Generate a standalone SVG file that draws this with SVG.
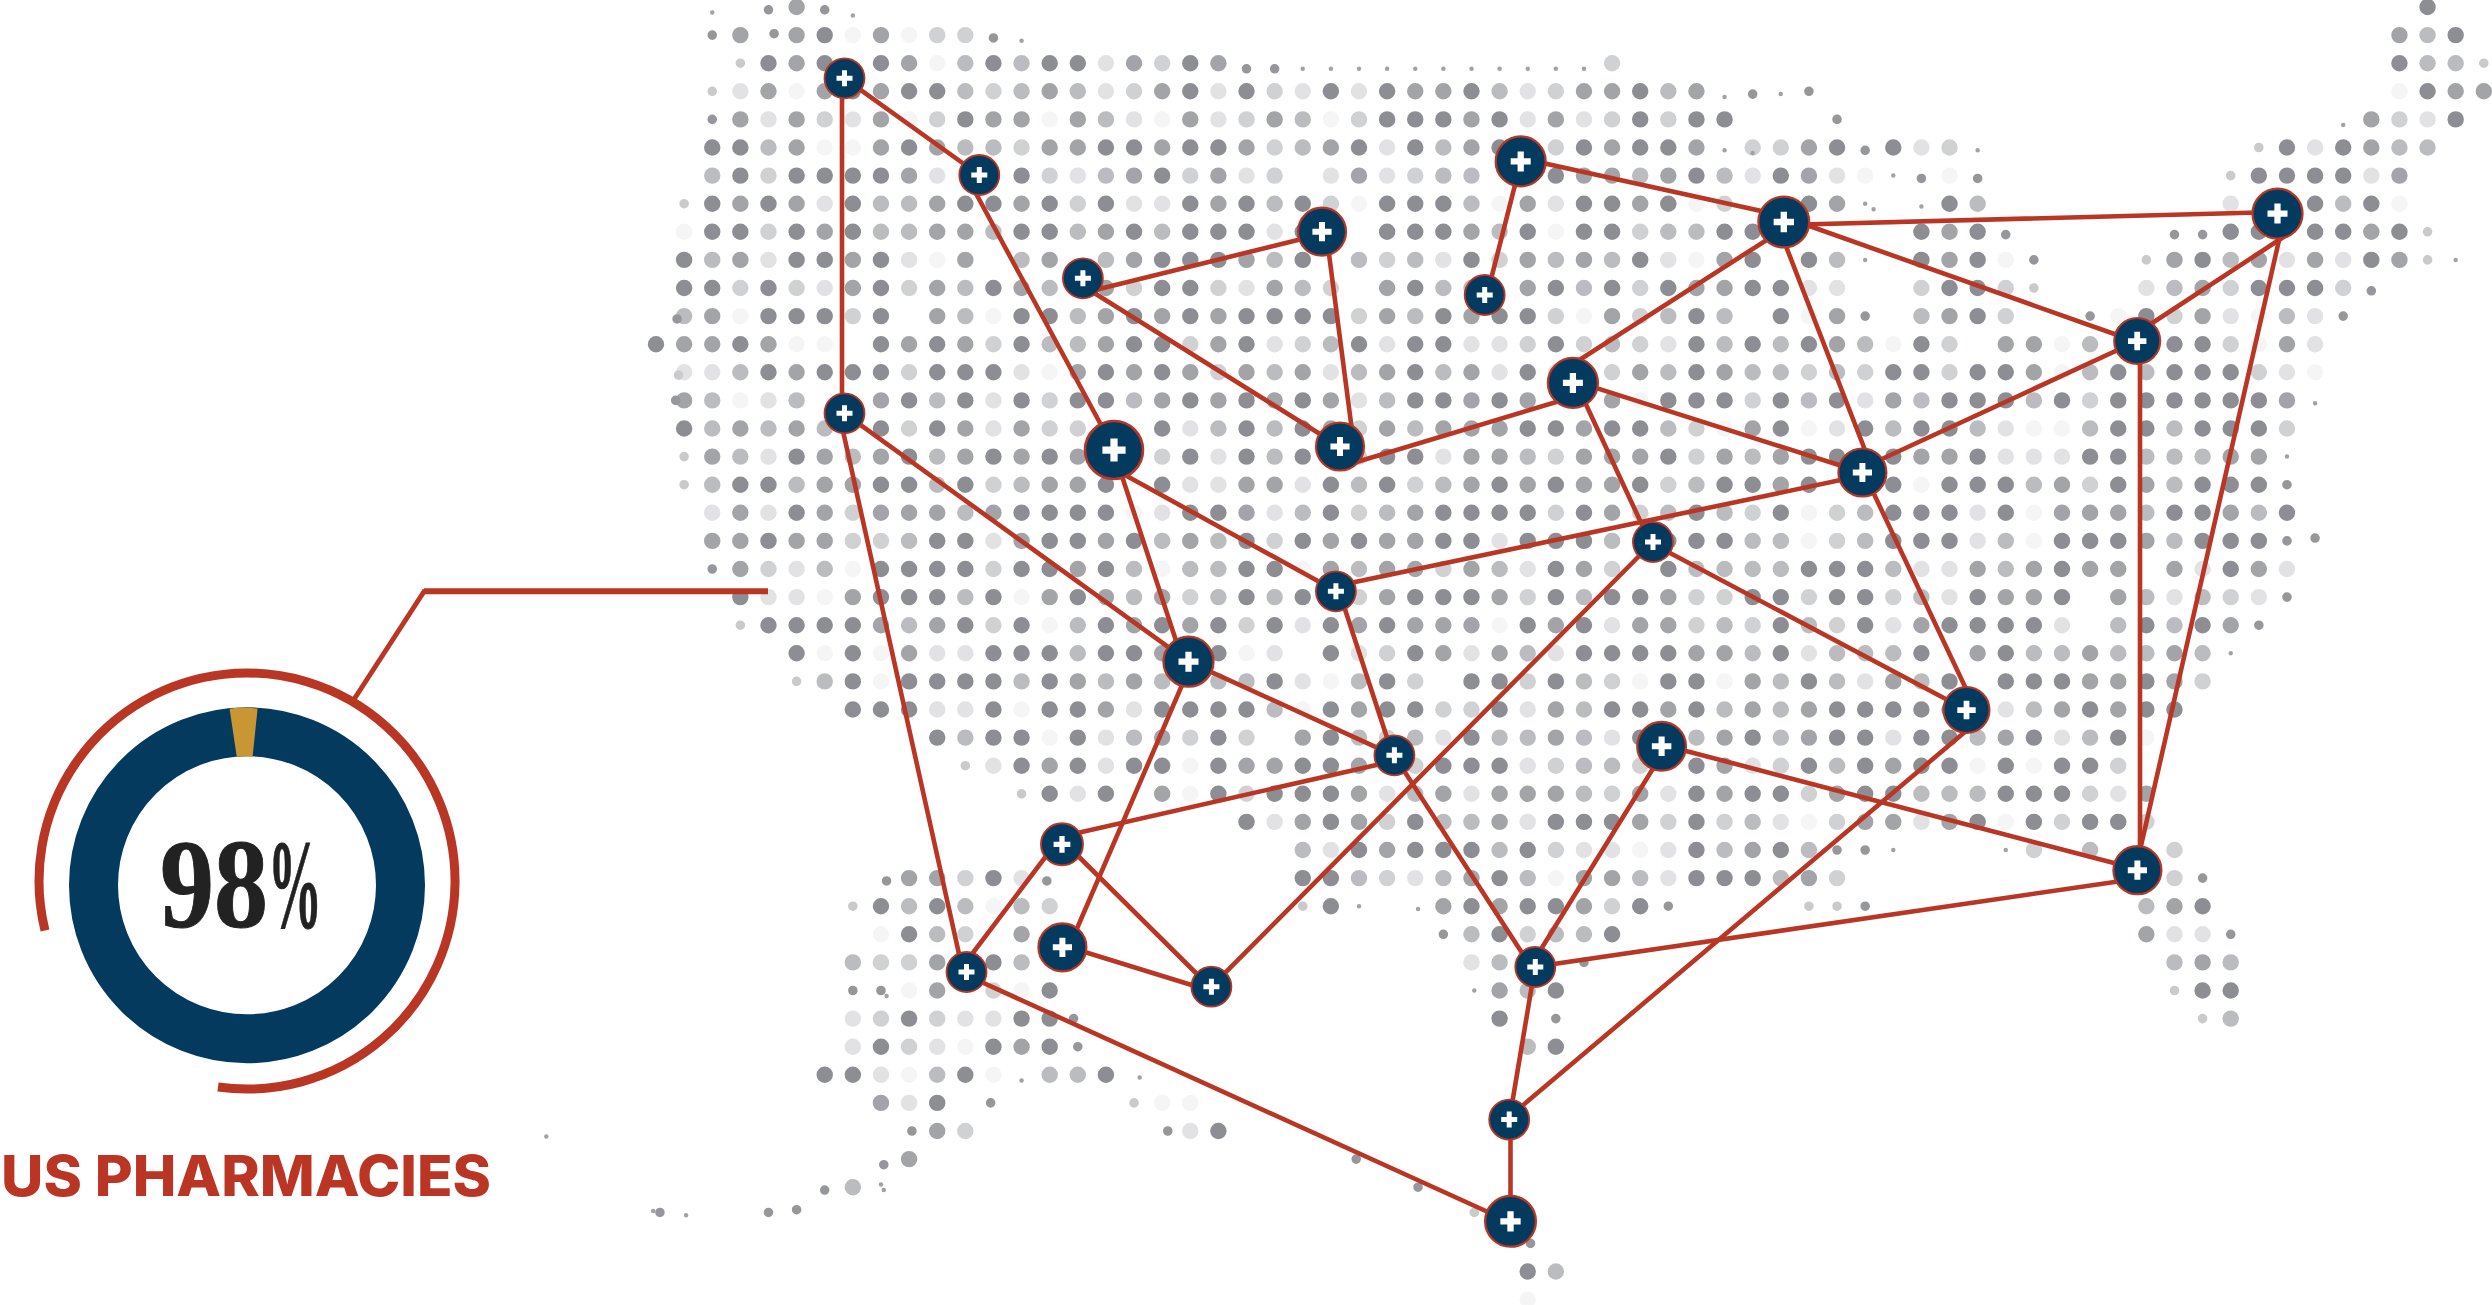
<svg xmlns="http://www.w3.org/2000/svg" width="2492" height="1305" viewBox="0 0 2492 1305">
<style>
#map path{fill:none;stroke-linecap:round;stroke-width:.585}
#map .a{stroke:#8c8e93}#map .b{stroke:#a2a4a8}#map .c{stroke:#bbbcbf}#map .d{stroke:#d0d1d3}#map .e{stroke:#e2e2e4}#map .f{stroke:#f5f5f6}
#map .s{stroke:#95979b;stroke-width:.34}#map .sl{stroke:#c9cacc;stroke-width:.34}#map .t{stroke:#a0a2a6;stroke-width:.16}
#edges line{stroke:#b93624;stroke-width:4.6;stroke-linecap:round}
.lead{fill:none;stroke:#b93624}
.lab{font-family:Inter,"Liberation Sans",sans-serif;font-weight:800;font-size:56px;fill:#bb3525}
.pct{font-family:"Liberation Serif",serif;font-weight:700;font-size:128px;fill:#222;stroke:#222;stroke-width:1}
</style>
<defs>
<g id="pin"><circle r="20" fill="#043a5e" stroke="#b93624" stroke-width="1.8"/><path d="M-8 0H8M0-8V8" fill="none" stroke="#fff" stroke-width="5"/></g>
</defs>
<g id="map" transform="translate(656 7) scale(28.12 28.1)">
<path class="a" d="M63 0h0M6 1h0M64 1h0M4 2h0M6 2h0M8 2h0M12 2h0M14 2h0M15 2h0M19 2h0M62 2h0M7 3h0M9 3h0M10 3h0M19 3h0M21 3h0M24 3h0M26 3h0M29 3h0M35 3h0M63 3h0M11 4h0M26 4h0M27 4h0M28 4h0M30 4h0M35 4h0M37 4h0M38 4h0M64 4h0M2 5h0M3 5h0M9 5h0M16 5h0M17 5h0M19 5h0M20 5h0M25 5h0M27 5h0M30 5h0M33 5h0M35 5h0M36 5h0M42 5h0M44 5h0M58 5h0M60 5h0M3 6h0M5 6h0M6 6h0M7 6h0M8 6h0M13 6h0M18 6h0M32 6h0M37 6h0M40 6h0M57 6h0M58 6h0M59 6h0M60 6h0M2 7h0M4 7h0M7 7h0M11 7h0M12 7h0M14 7h0M16 7h0M19 7h0M21 7h0M23 7h0M26 7h0M27 7h0M28 7h0M33 7h0M34 7h0M36 7h0M41 7h0M46 7h0M59 7h0M61 7h0M2 8h0M3 8h0M5 8h0M7 8h0M13 8h0M14 8h0M17 8h0M19 8h0M20 8h0M21 8h0M23 8h0M26 8h0M27 8h0M28 8h0M31 8h0M33 8h0M34 8h0M38 8h0M39 8h0M45 8h0M47 8h0M56 8h0M57 8h0M59 8h0M60 8h0M62 8h0M1 9h0M5 9h0M6 9h0M8 9h0M18 9h0M19 9h0M20 9h0M23 9h0M29 9h0M35 9h0M39 9h0M41 9h0M45 9h0M47 9h0M55 9h0M61 9h0M1 10h0M2 10h0M4 10h0M8 10h0M12 10h0M18 10h0M19 10h0M27 10h0M32 10h0M34 10h0M36 10h0M39 10h0M40 10h0M46 10h0M47 10h0M57 10h0M58 10h0M59 10h0M4 11h0M5 11h0M6 11h0M8 11h0M13 11h0M14 11h0M17 11h0M19 11h0M21 11h0M22 11h0M23 11h0M24 11h0M28 11h0M30 11h0M31 11h0M37 11h0M40 11h0M47 11h0M53 11h0M0 12h0M3 12h0M8 12h0M10 12h0M13 12h0M17 12h0M18 12h0M21 12h0M25 12h0M27 12h0M28 12h0M32 12h0M37 12h0M39 12h0M41 12h0M45 12h0M54 12h0M55 12h0M4 13h0M6 13h0M7 13h0M8 13h0M10 13h0M11 13h0M12 13h0M16 13h0M18 13h0M27 13h0M31 13h0M37 13h0M44 13h0M45 13h0M47 13h0M48 13h0M52 13h0M54 13h0M55 13h0M56 13h0M9 14h0M11 14h0M13 14h0M15 14h0M16 14h0M19 14h0M21 14h0M23 14h0M27 14h0M28 14h0M30 14h0M36 14h0M37 14h0M38 14h0M40 14h0M42 14h0M46 14h0M47 14h0M48 14h0M50 14h0M52 14h0M53 14h0M54 14h0M55 14h0M56 14h0M57 14h0M1 15h0M8 15h0M10 15h0M18 15h0M21 15h0M23 15h0M31 15h0M32 15h0M34 15h0M35 15h0M40 15h0M43 15h0M45 15h0M46 15h0M52 15h0M53 15h0M55 15h0M56 15h0M57 15h0M5 16h0M9 16h0M12 16h0M14 16h0M19 16h0M21 16h0M23 16h0M24 16h0M26 16h0M27 16h0M36 16h0M41 16h0M42 16h0M44 16h0M47 16h0M51 16h0M52 16h0M3 17h0M4 17h0M8 17h0M9 17h0M11 17h0M16 17h0M18 17h0M24 17h0M26 17h0M30 17h0M32 17h0M35 17h0M38 17h0M39 17h0M41 17h0M44 17h0M46 17h0M47 17h0M48 17h0M52 17h0M55 17h0M56 17h0M57 17h0M5 18h0M13 18h0M14 18h0M15 18h0M16 18h0M19 18h0M20 18h0M24 18h0M28 18h0M29 18h0M30 18h0M31 18h0M33 18h0M37 18h0M40 18h0M44 18h0M45 18h0M46 18h0M48 18h0M54 18h0M55 18h0M58 18h0M4 19h0M10 19h0M11 19h0M14 19h0M15 19h0M17 19h0M21 19h0M23 19h0M25 19h0M28 19h0M29 19h0M31 19h0M32 19h0M33 19h0M35 19h0M36 19h0M37 19h0M38 19h0M44 19h0M45 19h0M46 19h0M50 19h0M51 19h0M52 19h0M55 19h0M56 19h0M57 19h0M8 20h0M9 20h0M10 20h0M11 20h0M13 20h0M14 20h0M16 20h0M21 20h0M22 20h0M32 20h0M36 20h0M41 20h0M42 20h0M43 20h0M50 20h0M56 20h0M3 21h0M8 21h0M9 21h0M10 21h0M12 21h0M15 21h0M21 21h0M23 21h0M27 21h0M28 21h0M29 21h0M32 21h0M34 21h0M35 21h0M39 21h0M40 21h0M42 21h0M43 21h0M47 21h0M50 21h0M4 22h0M5 22h0M6 22h0M7 22h0M11 22h0M13 22h0M16 22h0M18 22h0M20 22h0M22 22h0M24 22h0M26 22h0M31 22h0M33 22h0M40 22h0M43 22h0M46 22h0M47 22h0M48 22h0M49 22h0M53 22h0M55 22h0M5 23h0M7 23h0M12 23h0M13 23h0M14 23h0M16 23h0M17 23h0M20 23h0M24 23h0M27 23h0M33 23h0M34 23h0M35 23h0M36 23h0M40 23h0M45 23h0M48 23h0M7 24h0M9 24h0M10 24h0M11 24h0M12 24h0M14 24h0M22 24h0M26 24h0M29 24h0M30 24h0M32 24h0M36 24h0M37 24h0M41 24h0M46 24h0M48 24h0M49 24h0M50 24h0M53 24h0M7 25h0M8 25h0M9 25h0M12 25h0M14 25h0M15 25h0M18 25h0M19 25h0M20 25h0M21 25h0M24 25h0M26 25h0M27 25h0M30 25h0M34 25h0M35 25h0M37 25h0M42 25h0M43 25h0M44 25h0M45 25h0M46 25h0M51 25h0M53 25h0M54 25h0M10 26h0M12 26h0M13 26h0M15 26h0M20 26h0M24 26h0M29 26h0M35 26h0M36 26h0M39 26h0M42 26h0M43 26h0M45 26h0M46 26h0M49 26h0M52 26h0M13 27h0M15 27h0M17 27h0M18 27h0M20 27h0M23 27h0M24 27h0M28 27h0M29 27h0M30 27h0M37 27h0M41 27h0M43 27h0M45 27h0M46 27h0M48 27h0M50 27h0M51 27h0M14 28h0M16 28h0M20 28h0M22 28h0M23 28h0M24 28h0M37 28h0M39 28h0M40 28h0M43 28h0M44 28h0M48 28h0M49 28h0M50 28h0M21 29h0M24 29h0M27 29h0M32 29h0M33 29h0M34 29h0M37 29h0M47 29h0M49 29h0M51 29h0M52 29h0M25 30h0M27 30h0M28 30h0M29 30h0M31 30h0M37 30h0M40 30h0M12 31h0M23 31h0M24 31h0M30 31h0M37 31h0M38 31h0M39 31h0M8 32h0M10 32h0M24 32h0M29 32h0M31 32h0M32 32h0M35 32h0M55 32h0M9 33h0M30 33h0M34 33h0M12 34h0M14 35h0M32 35h0M55 35h0M56 35h0M9 36h0M13 36h0M14 36h0M30 36h0M8 37h0M12 37h0M14 37h0M32 37h0M6 38h0M7 38h0M11 38h0M16 38h0M10 39h0M20 40h0M31 45h0"/>
<path class="b" d="M5 0h0M3 1h0M5 1h0M8 1h0M62 1h0M5 2h0M9 2h0M17 2h0M20 2h0M4 3h0M6 3h0M8 3h0M14 3h0M18 3h0M27 3h0M28 3h0M33 3h0M34 3h0M37 3h0M64 3h0M65 3h0M3 4h0M5 4h0M8 4h0M12 4h0M13 4h0M15 4h0M19 4h0M22 4h0M29 4h0M32 4h0M61 4h0M5 5h0M8 5h0M10 5h0M14 5h0M15 5h0M18 5h0M21 5h0M24 5h0M29 5h0M34 5h0M37 5h0M41 5h0M61 5h0M9 6h0M17 6h0M20 6h0M25 6h0M33 6h0M34 6h0M36 6h0M41 6h0M62 6h0M3 7h0M5 7h0M10 7h0M13 7h0M20 7h0M31 7h0M35 7h0M42 7h0M6 8h0M10 8h0M11 8h0M16 8h0M29 8h0M46 8h0M61 8h0M3 9h0M7 9h0M11 9h0M14 9h0M17 9h0M21 9h0M31 9h0M33 9h0M38 9h0M46 9h0M54 9h0M57 9h0M59 9h0M62 9h0M7 10h0M10 10h0M13 10h0M16 10h0M22 10h0M26 10h0M31 10h0M37 10h0M38 10h0M55 10h0M2 11h0M10 11h0M16 11h0M18 11h0M20 11h0M26 11h0M29 11h0M34 11h0M42 11h0M46 11h0M55 11h0M1 12h0M2 12h0M4 12h0M9 12h0M11 12h0M16 12h0M20 12h0M42 12h0M48 12h0M49 12h0M58 12h0M5 13h0M15 13h0M17 13h0M19 13h0M21 13h0M23 13h0M26 13h0M29 13h0M35 13h0M38 13h0M49 13h0M1 14h0M8 14h0M18 14h0M20 14h0M22 14h0M24 14h0M29 14h0M31 14h0M34 14h0M44 14h0M58 14h0M3 15h0M5 15h0M11 15h0M13 15h0M24 15h0M26 15h0M28 15h0M29 15h0M30 15h0M33 15h0M39 15h0M2 16h0M6 16h0M8 16h0M11 16h0M13 16h0M15 16h0M29 16h0M30 16h0M33 16h0M34 16h0M35 16h0M38 16h0M40 16h0M45 16h0M46 16h0M56 16h0M57 16h0M6 17h0M7 17h0M14 17h0M15 17h0M21 17h0M22 17h0M29 17h0M31 17h0M33 17h0M34 17h0M40 17h0M50 17h0M53 17h0M3 18h0M6 18h0M8 18h0M9 18h0M10 18h0M12 18h0M21 18h0M27 18h0M34 18h0M50 18h0M51 18h0M52 18h0M56 18h0M2 19h0M3 19h0M5 19h0M6 19h0M13 19h0M16 19h0M19 19h0M24 19h0M26 19h0M27 19h0M53 19h0M3 20h0M15 20h0M24 20h0M26 20h0M27 20h0M29 20h0M33 20h0M47 20h0M49 20h0M51 20h0M52 20h0M54 20h0M57 20h0M7 21h0M14 21h0M16 21h0M18 21h0M26 21h0M30 21h0M36 21h0M48 21h0M49 21h0M52 21h0M8 22h0M10 22h0M17 22h0M19 22h0M25 22h0M27 22h0M28 22h0M29 22h0M32 22h0M35 22h0M36 22h0M45 22h0M56 22h0M9 23h0M18 23h0M28 23h0M30 23h0M37 23h0M38 23h0M47 23h0M51 23h0M54 23h0M15 24h0M17 24h0M39 24h0M44 24h0M51 24h0M52 24h0M54 24h0M16 25h0M25 25h0M32 25h0M36 25h0M39 25h0M41 25h0M50 25h0M52 25h0M18 26h0M23 26h0M32 26h0M38 26h0M41 26h0M48 26h0M14 27h0M21 27h0M22 27h0M25 27h0M38 27h0M44 27h0M18 28h0M25 28h0M28 28h0M30 28h0M31 28h0M32 28h0M35 28h0M38 28h0M42 28h0M53 28h0M23 29h0M25 29h0M30 29h0M35 29h0M43 29h0M44 29h0M46 29h0M26 30h0M39 30h0M9 31h0M10 31h0M29 31h0M33 31h0M34 31h0M41 31h0M28 32h0M30 32h0M33 32h0M54 32h0M13 33h0M53 33h0M10 34h0M55 34h0M10 35h0M30 35h0M13 37h0M8 39h0M10 40h0M9 41h0"/>
<path class="c" d="M63 1h0M11 2h0M13 2h0M63 2h0M64 2h0M11 3h0M13 3h0M15 3h0M30 3h0M36 3h0M16 4h0M23 4h0M4 5h0M11 5h0M12 5h0M23 5h0M28 5h0M62 5h0M63 5h0M2 6h0M16 6h0M28 6h0M29 6h0M35 6h0M38 6h0M8 7h0M9 7h0M22 7h0M29 7h0M60 7h0M47 7h0M8 8h0M9 8h0M12 8h0M15 8h0M18 8h0M30 8h0M36 8h0M37 8h0M2 9h0M13 9h0M16 9h0M22 9h0M25 9h0M27 9h0M32 9h0M34 9h0M42 9h0M56 9h0M11 10h0M14 10h0M23 10h0M28 10h0M29 10h0M33 10h0M54 10h0M1 11h0M11 11h0M15 11h0M27 11h0M36 11h0M38 11h0M45 11h0M58 11h0M14 12h0M15 12h0M24 12h0M34 12h0M38 12h0M40 12h0M43 12h0M51 12h0M3 13h0M22 13h0M25 13h0M28 13h0M36 13h0M39 13h0M40 13h0M42 13h0M51 13h0M53 13h0M2 14h0M5 14h0M10 14h0M17 14h0M26 14h0M41 14h0M45 14h0M49 14h0M2 15h0M4 15h0M6 15h0M20 15h0M22 15h0M27 15h0M36 15h0M44 15h0M47 15h0M51 15h0M54 15h0M3 16h0M7 16h0M10 16h0M22 16h0M31 16h0M39 16h0M53 16h0M54 16h0M55 16h0M2 17h0M5 17h0M10 17h0M13 17h0M25 17h0M28 17h0M37 17h0M49 17h0M54 17h0M11 18h0M23 18h0M26 18h0M36 18h0M38 18h0M43 18h0M53 18h0M57 18h0M9 19h0M18 19h0M20 19h0M34 19h0M39 19h0M40 19h0M43 19h0M48 19h0M54 19h0M6 20h0M17 20h0M19 20h0M20 20h0M25 20h0M30 20h0M37 20h0M38 20h0M39 20h0M40 20h0M44 20h0M48 20h0M11 21h0M17 21h0M20 21h0M22 21h0M33 21h0M45 21h0M53 21h0M55 21h0M9 22h0M15 22h0M38 22h0M41 22h0M52 22h0M54 22h0M15 23h0M31 23h0M39 23h0M42 23h0M43 23h0M44 23h0M49 23h0M50 23h0M52 23h0M53 23h0M55 23h0M6 24h0M13 24h0M16 24h0M18 24h0M20 24h0M21 24h0M25 24h0M33 24h0M40 24h0M42 24h0M45 24h0M22 25h0M33 25h0M38 25h0M40 25h0M49 25h0M11 26h0M17 26h0M25 26h0M27 26h0M30 26h0M31 26h0M33 26h0M37 26h0M40 26h0M47 26h0M51 26h0M33 27h0M34 27h0M42 27h0M27 28h0M33 28h0M45 28h0M46 28h0M47 28h0M28 29h0M29 29h0M39 29h0M23 30h0M30 30h0M38 30h0M41 30h0M51 30h0M25 31h0M28 31h0M31 31h0M35 31h0M40 31h0M9 32h0M11 32h0M13 32h0M53 32h0M10 33h0M29 33h0M32 33h0M33 33h0M7 34h0M13 34h0M30 34h0M54 34h0M56 34h0M31 35h0M56 36h0M31 37h0M10 38h0M14 38h0M15 38h0M7 42h0M32 45h0"/>
<path class="d" d="M10 1h0M11 1h0M18 2h0M34 2h0M12 3h0M17 3h0M22 3h0M32 3h0M6 4h0M10 4h0M21 4h0M25 4h0M34 4h0M36 4h0M62 4h0M13 5h0M22 5h0M32 5h0M39 5h0M40 5h0M46 5h0M4 6h0M14 6h0M19 6h0M22 6h0M27 6h0M15 7h0M24 7h0M38 7h0M4 8h0M35 8h0M26 9h0M30 9h0M3 10h0M5 10h0M9 10h0M17 10h0M20 10h0M24 10h0M35 10h0M45 10h0M48 10h0M56 10h0M60 10h0M7 11h0M25 11h0M32 11h0M35 11h0M48 11h0M54 11h0M12 12h0M19 12h0M23 12h0M31 12h0M33 12h0M35 12h0M46 12h0M56 12h0M9 13h0M20 13h0M33 13h0M34 13h0M41 13h0M43 13h0M46 13h0M57 13h0M14 14h0M39 14h0M51 14h0M9 15h0M14 15h0M15 15h0M25 15h0M37 15h0M58 15h0M18 16h0M25 16h0M32 16h0M37 16h0M12 17h0M27 17h0M36 17h0M51 17h0M7 18h0M25 18h0M32 18h0M35 18h0M39 18h0M42 18h0M7 19h0M8 19h0M22 19h0M42 19h0M4 20h0M12 20h0M28 20h0M34 20h0M19 21h0M25 21h0M31 21h0M37 21h0M38 21h0M41 21h0M44 21h0M56 21h0M12 22h0M21 22h0M37 22h0M39 22h0M42 22h0M26 23h0M27 24h0M31 24h0M34 24h0M55 24h0M28 25h0M29 25h0M19 26h0M21 26h0M26 26h0M27 27h0M32 27h0M35 27h0M40 27h0M52 27h0M21 28h0M34 28h0M41 28h0M51 28h0M26 29h0M36 29h0M38 29h0M42 29h0M50 29h0M53 29h0M32 30h0M49 30h0M54 30h0M11 31h0M26 31h0M42 31h0M54 31h0M14 32h0M34 32h0M11 33h0M31 33h0M8 34h0M9 34h0M12 35h0M8 36h0M10 36h0M9 37h0M11 40h0"/>
<path class="e" d="M16 2h0M3 3h0M16 3h0M20 3h0M23 3h0M25 3h0M31 3h0M4 4h0M7 4h0M17 4h0M20 4h0M31 4h0M33 4h0M63 4h0M26 5h0M45 5h0M59 5h0M10 6h0M15 6h0M21 6h0M24 6h0M26 6h0M39 6h0M42 6h0M61 6h0M6 7h0M17 7h0M18 7h0M32 7h0M56 7h0M22 8h0M4 9h0M9 9h0M28 9h0M36 9h0M58 9h0M60 9h0M6 10h0M21 10h0M41 10h0M42 10h0M53 10h0M56 11h0M59 11h0M22 12h0M26 12h0M29 12h0M30 12h0M36 12h0M59 12h0M1 13h0M2 13h0M13 13h0M24 13h0M30 13h0M32 13h0M58 13h0M4 14h0M12 14h0M25 14h0M43 14h0M12 15h0M19 15h0M42 15h0M48 15h0M4 16h0M20 16h0M28 16h0M48 16h0M49 16h0M50 16h0M19 17h0M20 17h0M23 17h0M2 18h0M4 18h0M18 18h0M22 18h0M47 18h0M12 19h0M30 19h0M47 19h0M5 20h0M31 20h0M45 20h0M46 20h0M55 20h0M58 20h0M4 21h0M5 21h0M46 21h0M54 21h0M57 21h0M23 22h0M34 22h0M44 22h0M50 22h0M10 23h0M11 23h0M22 23h0M25 23h0M29 23h0M32 23h0M41 23h0M23 24h0M43 24h0M10 25h0M11 25h0M17 25h0M31 25h0M48 25h0M16 26h0M28 26h0M34 26h0M44 26h0M50 26h0M12 27h0M16 27h0M31 27h0M39 27h0M15 28h0M26 28h0M29 28h0M36 28h0M52 28h0M22 29h0M31 29h0M40 29h0M45 29h0M24 30h0M33 30h0M34 30h0M36 30h0M13 31h0M27 31h0M36 31h0M54 33h0M55 33h0M29 34h0M7 36h0M11 36h0M12 36h0M7 37h0M10 37h0M8 38h0M9 39h0M19 40h0"/>
<path class="f" d="M7 1h0M9 1h0M10 2h0M5 3h0M62 3h0M9 4h0M14 4h0M18 4h0M24 4h0M6 5h0M7 5h0M43 6h0M46 6h0M25 7h0M30 7h0M37 7h0M62 7h0M1 8h0M32 8h0M10 9h0M37 9h0M48 9h0M3 11h0M12 11h0M33 11h0M41 11h0M52 11h0M57 11h0M5 12h0M6 12h0M44 12h0M50 12h0M57 12h0M14 13h0M50 13h0M59 13h0M3 14h0M35 14h0M38 15h0M41 15h0M49 15h0M50 15h0M45 17h0M17 18h0M41 18h0M49 18h0M41 19h0M49 19h0M7 20h0M18 20h0M23 20h0M6 21h0M13 21h0M14 22h0M30 22h0M6 23h0M8 23h0M21 23h0M8 24h0M24 24h0M35 24h0M38 24h0M13 25h0M23 25h0M14 26h0M53 26h0M19 27h0M47 27h0M49 27h0M19 28h0M41 29h0M48 29h0M35 30h0M32 31h0M12 32h0M8 33h0M9 35h0M13 35h0M11 37h0M9 38h0M12 38h0M18 39h0M19 39h0M31 46h0"/>
<path class="s" d="M4 .1h0M6 .1h0M2 1h0M4.2 .95h0M12 1.1h0M21 2.2h0M22 2.2h0M2 4h0M42 4h0M41 3h0M39 3.1h0M43 5.1h0M45 6.1h0M47 6.1h0M48 8.1h0M54 8.1h0M55 8.1h0M49 9h0M61 10.1h0M.75 11.1h0M43 11h0M51 11h0M60 11h0M.7 14h0M58 17h0M58 19h0M59 18.9h0M2 20h0M58 21h0M57 22h0M42 30h0M43 30h0M8.2 31.1h0M13.9 31.1h0M55 31h0M36 32h0M43 32h0M28 33h0M56 33h0M33 34h0M7 35h0M8 35h0M32 36h0M14.85 36h0M15 37h0M11.9 39h0M9.1 40h0M18.2 40h0M8.1 41.2h0M6 42.1h0M27.1 42h0M.14 42.9h0M5 42.8h0M4 42.9h0M31.1 44h0M24.9 41h0"/>
<path class="sl" d="M3 2h0M2 3h0M57 5h0M56 6h0M1 7h0M65 2h0M63 8h0M53 9h0M63 9h0M49 10h0M.8 13.1h0M1 16h0M1 17h0M3 22h0M5 24h0M11 27h0M13 28h0M7 32h0M23 32h0M41 32h0M42 32h0M54 35h0M55 36h0M17 39h0M29.1 42.9h0"/>
<path class="t" d="M2 0.2h0M7 .3h0M13 1.2h0M24 2.2h0M25 2.2h0M26 2.2h0M27 2.2h0M28 2.2h0M29 2.2h0M30 2.2h0M31 2.2h0M32 2.2h0M33 2.2h0M23 2.2h0M38 3.2h0M40 3.1h0M39 5.2h0M38 5.1h0M47 5.1h0M60 4.2h0M44 6h0M43 7h0M43.3 7.2h0M45 7.1h0M43 9h0M64 9h0M59 14.1h0M58 16h0M56 23h0M44 30h0M48 30h0M25 32h0M27.1 32.1h0M8.2 35.2h0M29.1 35h0M13 38.2h0M17.2 38.1h0M8 41.9h0M8.1 42.1h0M1.07 43h0M-.1 42.85h0M-3.9 40.2h0"/>
</g>
<g id="edges">
<line x1="844.5" y1="78.3" x2="979.3" y2="175"/><line x1="842" y1="78.3" x2="842" y2="413"/><line x1="966" y1="175" x2="1114.6" y2="450"/><line x1="1083" y1="293" x2="1322" y2="234"/><line x1="1083" y1="286" x2="1340" y2="446.5"/><line x1="1326" y1="231" x2="1354" y2="446"/><line x1="1521" y1="161.4" x2="1487" y2="295"/><line x1="1520" y1="158" x2="1784" y2="216"/><line x1="1783.8" y1="225" x2="2277.5" y2="212"/><line x1="1784" y1="217" x2="2137" y2="342"/><line x1="1790" y1="225" x2="1570" y2="366"/><line x1="1776.6" y1="222" x2="1873.5" y2="472"/><line x1="2285" y1="236" x2="2137" y2="333"/><line x1="2285" y1="214" x2="2135.5" y2="870"/><line x1="2137.2" y1="341" x2="1862.4" y2="468"/><line x1="2140" y1="341" x2="2140" y2="870"/><line x1="1573" y1="397" x2="1340" y2="467"/><line x1="1573" y1="380.6" x2="1862.4" y2="472.5"/><line x1="1576" y1="383" x2="1650" y2="542"/><line x1="1862" y1="475.6" x2="1336" y2="586"/><line x1="1863.6" y1="472" x2="1976" y2="710"/><line x1="1114" y1="469" x2="1336" y2="591"/><line x1="1113.4" y1="450" x2="1183" y2="662"/><line x1="844.5" y1="413.3" x2="1188.5" y2="661.7"/><line x1="839" y1="413" x2="963" y2="972"/><line x1="1653" y1="544" x2="1966.5" y2="710"/><line x1="1653" y1="542" x2="1211.4" y2="986.7"/><line x1="1339" y1="591" x2="1392.7" y2="755"/><line x1="1188.5" y1="661.7" x2="1394" y2="755.3"/><line x1="1192" y1="662" x2="1069" y2="947"/><line x1="1394" y1="761" x2="1062" y2="836.5"/><line x1="1394" y1="755.3" x2="1535" y2="973"/><line x1="1966" y1="731" x2="1509" y2="1117"/><line x1="1667" y1="746" x2="1530" y2="967"/><line x1="1661" y1="744.4" x2="2137" y2="869"/><line x1="1062" y1="835" x2="966" y2="962"/><line x1="1062" y1="840" x2="1211" y2="988"/><line x1="1062" y1="945" x2="1211" y2="991"/><line x1="966" y1="975" x2="1510" y2="1222"/><line x1="1535" y1="966.7" x2="2137" y2="878.7"/><line x1="1535" y1="967" x2="1509.5" y2="1119"/><line x1="1510.5" y1="1119.6" x2="1510.5" y2="1221.3"/>
</g>
<g id="n1" transform="translate(844.5 78.3)"><use href="#pin"/></g>
<g id="n2" transform="translate(979.3 175)"><use href="#pin"/></g>
<g id="n3" transform="translate(1082.9 278.3)"><use href="#pin"/></g>
<g id="n4" transform="translate(1322 231.7) scale(1.2)"><use href="#pin"/></g>
<g id="n5" transform="translate(1520.7 161.4) scale(1.25)"><use href="#pin"/></g>
<g id="n6" transform="translate(1484.7 295)"><use href="#pin"/></g>
<g id="n7" transform="translate(1783.8 222) scale(1.27)"><use href="#pin"/></g>
<g id="n8" transform="translate(2277.5 213.6) scale(1.25)"><use href="#pin"/></g>
<g id="n9" transform="translate(2137.2 341) scale(1.15)"><use href="#pin"/></g>
<g id="n10" transform="translate(1572.9 382.9) scale(1.25)"><use href="#pin"/></g>
<g id="n11" transform="translate(1862.4 472.5) scale(1.2)"><use href="#pin"/></g>
<g id="n12" transform="translate(1340 446.5) scale(1.2)"><use href="#pin"/></g>
<g id="n13" transform="translate(1114 450) scale(1.45)"><use href="#pin"/></g>
<g id="n14" transform="translate(844.5 413.3)"><use href="#pin"/></g>
<g id="n15" transform="translate(1653 542)"><use href="#pin"/></g>
<g id="n16" transform="translate(1335.9 591.3)"><use href="#pin"/></g>
<g id="n17" transform="translate(1188.5 661.7) scale(1.25)"><use href="#pin"/></g>
<g id="n18" transform="translate(1394.4 755.3)"><use href="#pin"/></g>
<g id="n19" transform="translate(1966.5 710) scale(1.15)"><use href="#pin"/></g>
<g id="n20" transform="translate(1661.6 746.2) scale(1.22)"><use href="#pin"/></g>
<g id="n21" transform="translate(1062 844.3) scale(1.05)"><use href="#pin"/></g>
<g id="n22" transform="translate(1062.4 947.3) scale(1.2)"><use href="#pin"/></g>
<g id="n23" transform="translate(966.5 972)"><use href="#pin"/></g>
<g id="n24" transform="translate(1211.4 986.7)"><use href="#pin"/></g>
<g id="n25" transform="translate(1535.3 967)"><use href="#pin"/></g>
<g id="n26" transform="translate(2137.4 870.2) scale(1.2)"><use href="#pin"/></g>
<g id="n27" transform="translate(1509.2 1119.6)"><use href="#pin"/></g>
<g id="n28" transform="translate(1510.5 1221.3) scale(1.27)"><use href="#pin"/></g>
<g id="callout">
<path class="lead" stroke-width="6" d="M424 591.3H768"/>
<path class="lead" stroke-width="5" d="M425 590L353.6 700"/>
<path class="lead" stroke-width="9" d="M45 930.5A208 208 0 1 1 218 1087"/>
<circle cx="247" cy="885.3" r="153.5" fill="none" stroke="#043a5e" stroke-width="49"/>
<path d="M229.6 708.7Q243.5 706.5 257.6 708.6L252.6 756.5H236.7Z" fill="#c89632"/>
<text class="pct" x="160" y="927"><tspan textLength="108" lengthAdjust="spacingAndGlyphs">98</tspan><tspan textLength="54" lengthAdjust="spacingAndGlyphs">%</tspan></text>
<text class="lab" x="1" y="1196" textLength="490" lengthAdjust="spacingAndGlyphs">US PHARMACIES</text>
</g>
</svg>
